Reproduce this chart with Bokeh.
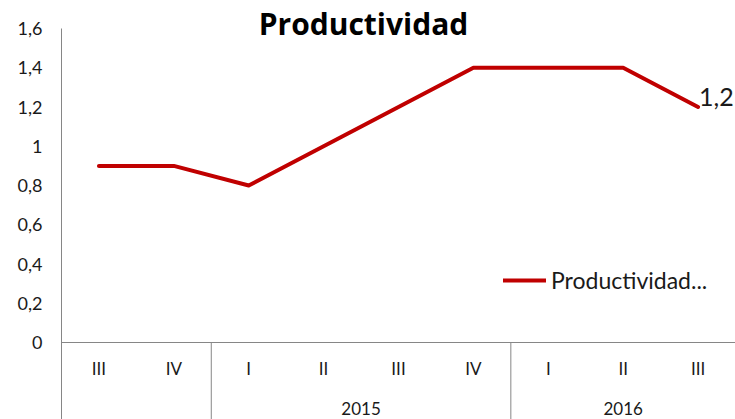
from bokeh.plotting import figure
from bokeh.models import (FactorRange, Range1d, Label, Legend, LegendItem, Span,
                          CustomJSTickFormatter, FixedTicker, ColumnDataSource)
from bokeh.core.properties import value
from bokeh.embed import file_html
from bokeh.resources import INLINE

title_text = "Productividad"
series_name = "Productividad..."
years = ["", "", "2015", "2015", "2015", "2015", "2016", "2016", "2016"]
quarters = ["III", "IV", "I", "II", "III", "IV", "I", "II", "III"]
productividad = [0.9, 0.9, 0.8, 1.0, 1.2, 1.4, 1.4, 1.4, 1.2]
y_ticks = [0, 0.2, 0.4, 0.6, 0.8, 1.0, 1.2, 1.4, 1.6]

FONT = "Lato"
RED = "#C00000"
GRAY = "#868686"
TXT = "#1a1a1a"

W, H = 735, 419
TOP, LEFT, ZERO_PX = 28, 61, 342   # pixel row of top tick, frame left, pixel row of y=0
y_max = y_ticks[-1]
ppu = (ZERO_PX - TOP) / y_max       # pixels per unit
y_start = -(H - ZERO_PX) / ppu
y_end = y_max + TOP / ppu

factors = list(zip(years, quarters))
src = ColumnDataSource(dict(x=factors, y=productividad))

p = figure(width=W, height=H,
           x_range=FactorRange(*factors, factor_padding=0, group_padding=0,
                               subgroup_padding=0, range_padding=0),
           y_range=Range1d(y_start, y_end),
           output_backend="svg", toolbar_location=None,
           min_border_left=LEFT, min_border_right=0,
           min_border_top=0, min_border_bottom=0)
p.outline_line_color = None
p.xgrid.grid_line_color = None
p.ygrid.grid_line_color = None
p.xaxis.visible = False

# y axis
p.yaxis.ticker = FixedTicker(ticks=y_ticks)
p.yaxis.bounds = (y_start, y_max)
p.yaxis.formatter = CustomJSTickFormatter(
    code="var s = (Math.round(tick*10)/10).toString(); return s.replace('.', ',');")
p.yaxis.axis_line_color = GRAY
p.yaxis.major_tick_line_color = None
p.yaxis.minor_tick_line_color = None
p.yaxis.major_label_standoff = 13
p.yaxis.major_label_text_font = FONT
p.yaxis.major_label_text_font_size = "18px"
p.yaxis.major_label_text_color = TXT

# category axis drawn by hand: baseline, separators, quarter and year labels
p.add_layout(Span(location=0, dimension="width", line_color=GRAY, line_width=1))
bounds = [i for i in range(1, len(years)) if years[i] != years[i - 1]]
p.segment(x0=bounds, y0=[0] * len(bounds), x1=bounds, y1=[y_start] * len(bounds),
          line_color=GRAY, line_width=1)
q_src = ColumnDataSource(dict(x=factors, y=[0] * len(factors), t=quarters))
p.text('x', 'y', text='t', source=q_src, text_font=value(FONT),
       text_font_size="17px", text_color=TXT, y_offset=26,
       text_align="center", text_baseline="middle")
yr_labels = [y for i, y in enumerate(years) if y and y not in years[:i]]
y_src = ColumnDataSource(dict(x=yr_labels, y=[0] * len(yr_labels), t=yr_labels))
p.text('x', 'y', text='t', source=y_src, text_font=value(FONT),
       text_font_size="17px", text_color=TXT, y_offset=66,
       text_align="center", text_baseline="middle")

# series
r = p.line('x', 'y', source=src, line_color=RED, line_width=4,
           line_join="round", line_cap="round")

# data label on last point
lab_src = ColumnDataSource(dict(x=[factors[-1]], y=[productividad[-1]],
                                t=[("%g" % productividad[-1]).replace('.', ',')]))
p.text('x', 'y', text='t', source=lab_src, text_font=value(FONT),
       text_font_size="25px", text_color=TXT, x_offset=1, y_offset=-1,
       text_align="left", text_baseline="bottom")

# title
p.add_layout(Label(x=363 - LEFT, y=H - 23, x_units="screen", y_units="screen",
                   text=title_text, text_font="Open Sans", text_font_size="30px",
                   text_font_style="bold", text_color="#000000",
                   text_align="center", text_baseline="middle"))

legend = Legend(items=[LegendItem(label=series_name, renderers=[r])],
                location=(442, 48 + (H - ZERO_PX)), border_line_color=None,
                background_fill_alpha=0, label_text_font=FONT,
                label_text_font_size="23px", label_text_color=TXT,
                glyph_width=43, glyph_height=26, label_standoff=5,
                padding=0, margin=0, spacing=0)
p.add_layout(legend)

open("out.html", "w").write(file_html(p, INLINE))
